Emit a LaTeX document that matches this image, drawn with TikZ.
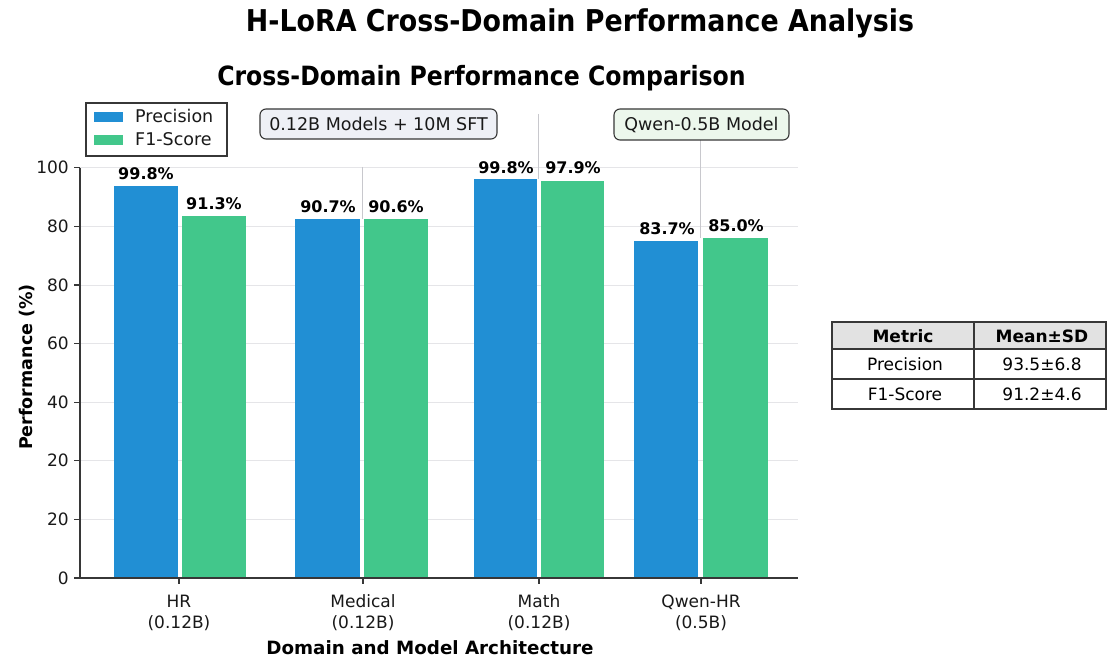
\documentclass[tikz,border=0pt]{standalone}
\usepackage{fontspec}
\setmainfont{DejaVu Sans}
\newfontfamily\headfont[FakeStretch=0.895]{DejaVu Sans}
\newfontfamily\subheadfont[FakeStretch=0.89]{DejaVu Sans}
\definecolor{barblue}{RGB}{33,143,212}
\definecolor{bargreen}{RGB}{66,199,139}
\definecolor{gridgray}{RGB}{229,229,232}
\definecolor{vlinegray}{RGB}{200,200,205}
\definecolor{axisgray}{RGB}{55,55,55}
\definecolor{boxblue}{RGB}{238,240,246}
\definecolor{boxgreen}{RGB}{236,247,236}
\definecolor{headgray}{RGB}{226,226,226}
\tikzset{
  ticklbl/.style={font=\fontsize{17}{20}\selectfont, inner sep=0pt, text=black!90},
  vallbl/.style={font=\fontsize{16}{19}\selectfont\bfseries, inner sep=0pt, anchor=base},
  axlbl/.style={font=\fontsize{17.5}{21}\selectfont\bfseries, inner sep=0pt},
  note/.style={draw=axisgray, line width=1.1pt, rounded corners=6pt},
  cell/.style={font=\fontsize{17}{20}\selectfont, inner sep=0pt, anchor=base},
  gridline/.style={draw=gridgray, line width=1pt},
}
\begin{document}
\begin{tikzpicture}[x=1pt,y=-1pt]
\useasboundingbox[fill=white] (0,0) rectangle (1107,660);

% titles
\node[font=\headfont\fontsize{30}{34}\selectfont\bfseries, anchor=base, inner sep=0pt] (title) at (580,32) {H-LoRA Cross-Domain Performance Analysis};
\node[font=\subheadfont\fontsize{26.5}{31}\selectfont\bfseries, anchor=base, inner sep=0pt] (subtitle) at (481.5,86) {Cross-Domain Performance Comparison};

% horizontal grid
\foreach \yy in {167.8,226.4,285,343.6,402.2,460.8,519.4}
  \draw[gridline] (80,\yy) -- (798,\yy);

% vertical guide lines
\draw[vlinegray, line width=1pt] (362,167) -- (362,219);
\draw[vlinegray, line width=1pt] (538,114) -- (538,179);
\draw[vlinegray, line width=1pt] (700,140) -- (700,238);

% bars: HR, Medical, Math, Qwen-HR
\fill[barblue]  (114,186) rectangle (178,578);
\fill[bargreen] (182,216) rectangle (246,578);
\fill[barblue]  (295,219) rectangle (360,578);
\fill[bargreen] (364,219) rectangle (428,578);
\fill[barblue]  (474,179) rectangle (537,578);
\fill[bargreen] (541,181) rectangle (604,578);
\fill[barblue]  (634,241) rectangle (698,578);
\fill[bargreen] (703,238) rectangle (768,578);

% value labels
\node[vallbl] (v1) at (146,180) {99.8\%};
\node[vallbl] (v2) at (214,210) {91.3\%};
\node[vallbl] (v3) at (328,213) {90.7\%};
\node[vallbl] (v4) at (396,213) {90.6\%};
\node[vallbl] (v5) at (506,174) {99.8\%};
\node[vallbl] (v6) at (573,174) {97.9\%};
\node[vallbl] (v7) at (667,234) {83.7\%};
\node[vallbl] (v8) at (736,232) {85.0\%};

% axes
\draw[axisgray, line width=1.2pt] (80,167.8) -- (80,578) -- (798,578);
\foreach \yy/\lab [count=\i] in {578/0,519.4/20,460.8/20,402.2/40,343.6/60,285/80,226.4/80,167.8/100} {
  \draw[axisgray, line width=1.1pt] (74,\yy) -- (80,\yy);
  \node[ticklbl, anchor=east] (yt\i) at (69,\yy) {\lab};
}
\foreach \xx/\top/\bot [count=\i] in {179/HR/(0.12B),363/Medical/(0.12B),539/Math/(0.12B),701/Qwen-HR/(0.5B)} {
  \draw[axisgray, line width=1.1pt] (\xx,578) -- (\xx,584);
  \node[ticklbl, anchor=base] (xc\i) at (\xx,607) {\top};
  \node[ticklbl, anchor=base] (xs\i) at (\xx,628) {\bot};
}

% axis titles
\node[axlbl, rotate=90, anchor=base] (ylab) at (32,367) {Performance (\%)};
\node[axlbl, font=\fontsize{18.3}{21}\selectfont\bfseries, anchor=base] (xlab) at (430,654) {Domain and Model Architecture};

% legend
\draw[axisgray, line width=1.1pt, fill=white] (86,103) rectangle (227,156);
\fill[barblue]  (94,112) rectangle (123,122);
\fill[bargreen] (94,135) rectangle (123,145);
\node[ticklbl, font=\fontsize{17.5}{20}\selectfont, anchor=base west] (lg1) at (135,123) {Precision};
\node[ticklbl, font=\fontsize{17.5}{20}\selectfont, anchor=base west] (lg2) at (135,146) {F1-Score};

% annotation boxes
\draw[note, fill=boxblue]  (260,109) rectangle (497,139);
\node[ticklbl, font=\fontsize{17.5}{20}\selectfont, anchor=base] (n1) at (378.5,131) {0.12B Models + 10M SFT};
\draw[note, fill=boxgreen] (614,109) rectangle (789,140);
\node[ticklbl, font=\fontsize{17.5}{20}\selectfont, anchor=base] (n2) at (701.5,131) {Qwen-0.5B Model};

% summary table
\fill[headgray] (832,322) rectangle (1106,349);
\draw[axisgray, line width=1.1pt] (832,322) rectangle (1106,409);
\draw[axisgray, line width=1.1pt] (832,349) -- (1106,349);
\draw[axisgray, line width=1.1pt] (832,379) -- (1106,379);
\draw[axisgray, line width=1.1pt] (974,322) -- (974,409);
\node[cell, font=\fontsize{17}{20}\selectfont\bfseries] (t11) at (903,342) {Metric};
\node[cell, font=\fontsize{17}{20}\selectfont\bfseries] (t12) at (1042,342) {Mean±SD};
\node[cell] (t21) at (905,370) {Precision};
\node[cell] (t22) at (1042,370) {93.5±6.8};
\node[cell] (t31) at (905,400) {F1-Score};
\node[cell] (t32) at (1042,400) {91.2±4.6};
\end{tikzpicture}
\end{document}
